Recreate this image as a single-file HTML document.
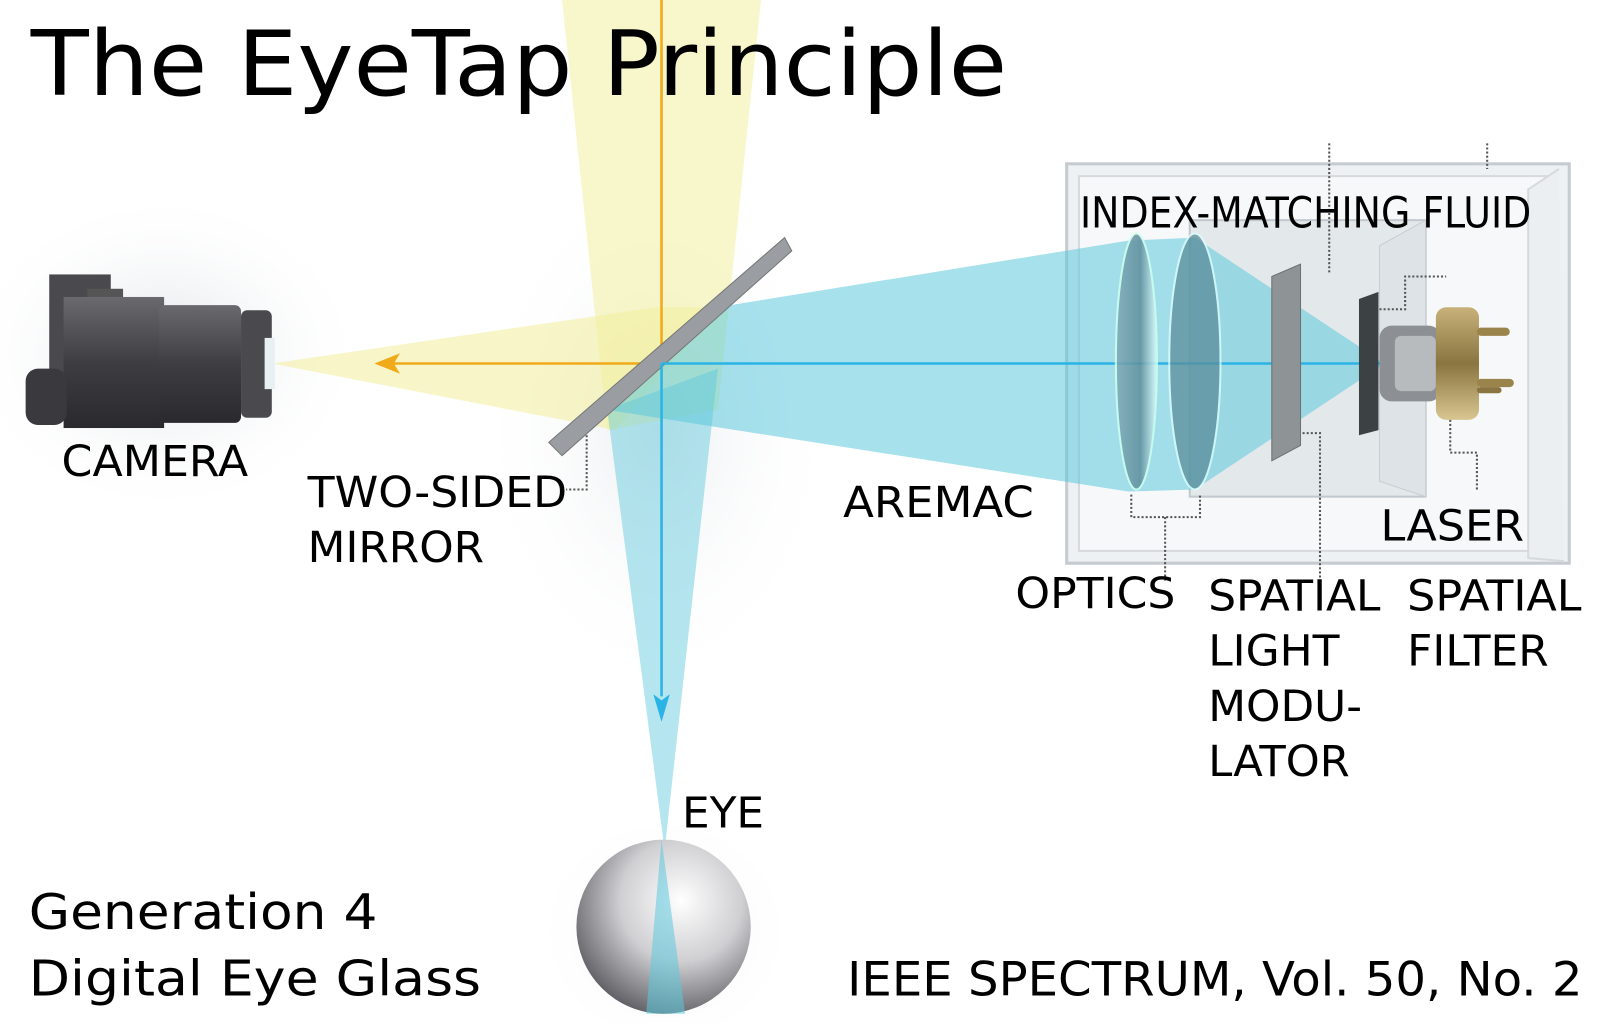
<!DOCTYPE html>
<html><head><meta charset="utf-8"><style>html,body{margin:0;padding:0;background:#fff}svg{display:block}</style></head><body>
<svg width="1600" height="1024" viewBox="0 0 1560 1000" preserveAspectRatio="none" xmlns="http://www.w3.org/2000/svg" font-family="DejaVu Sans, Liberation Sans, sans-serif">
<defs>
<radialGradient id="sh" cx="0.5" cy="0.5" r="0.5"><stop offset="0" stop-color="#d8dde2" stop-opacity="0.8"/><stop offset="1" stop-color="#fff" stop-opacity="0"/></radialGradient>
<radialGradient id="eye" cx="0.6" cy="0.35" r="0.7"><stop offset="0" stop-color="#fff"/><stop offset="0.5" stop-color="#cfcfd2"/><stop offset="1" stop-color="#5a5a60"/></radialGradient>
<linearGradient id="cam" x1="0" y1="0" x2="0" y2="1"><stop offset="0" stop-color="#6a6a6e"/><stop offset="0.5" stop-color="#3e3e42"/><stop offset="1" stop-color="#2a2a2e"/></linearGradient>
<linearGradient id="gold" x1="0" y1="0" x2="0" y2="1"><stop offset="0" stop-color="#c8b27a"/><stop offset="0.5" stop-color="#8a7440"/><stop offset="1" stop-color="#d8c690"/></linearGradient>
<linearGradient id="lens" x1="0" y1="0" x2="1" y2="0"><stop offset="0" stop-color="#7fa9b5"/><stop offset="0.6" stop-color="#5f8e9c"/><stop offset="1" stop-color="#dff"/></linearGradient>
</defs>
<rect width="1560" height="1000" fill="#fff"/>
<ellipse cx="160" cy="345" rx="200" ry="160" fill="url(#sh)"/>
<ellipse cx="640" cy="420" rx="180" ry="260" fill="url(#sh)" opacity="0.6"/>
<ellipse cx="648" cy="910" rx="130" ry="120" fill="url(#sh)" opacity="0.7"/>
<rect x="1040" y="160" width="490" height="390" fill="#eef1f3" stroke="#c5cbd0" stroke-width="3"/>
<rect x="1052" y="172" width="466" height="366" fill="#f6f8f9" stroke="#d6dadd" stroke-width="2"/>
<path d="M1520 165 L1490 185 L1490 545 L1525 548" fill="#eceff1" stroke="#d6dadd" stroke-width="2"/>
<rect x="1160" y="215" width="230" height="270" fill="#e3e8eb" stroke="#c2c9ce" stroke-width="2"/>
<path d="M1345 240 L1390 215 L1390 485 L1345 470 Z" fill="#dde3e6" stroke="#c8ced2"/>
<path d="M548 0 L742 0 L700 400 L592 420 Z" fill="#f3f0a0" opacity="0.55"/>
<path d="M265 355 L640 300 L700 300 L600 420 Z" fill="#f3ee9a" opacity="0.55"/>
<path d="M700 300 L1100 235 L1165 232 L1350 355 L1165 478 L1100 480 L590 400 Z" fill="#5cc8dc" opacity="0.55"/>
<path d="M592 400 L700 360 L648 830 Z" fill="#5cc8dc" opacity="0.45"/>
<line x1="645" y1="0" x2="645" y2="355" stroke="#f0aa1a" stroke-width="2.5"/>
<line x1="645" y1="355" x2="380" y2="355" stroke="#f0aa1a" stroke-width="2.5"/>
<path d="M365 355 L390 345 L384 355 L390 365 Z" fill="#f0aa1a"/>
<path d="M535 432 L765 232 L772 245 L548 445 Z" fill="#9a9ea2" stroke="#777" stroke-width="1"/>
<line x1="645" y1="355" x2="1350" y2="355" stroke="#2ab4e6" stroke-width="2.5"/>
<line x1="645" y1="355" x2="645" y2="680" stroke="#2ab4e6" stroke-width="2.5"/>
<path d="M645 705 L637 678 L645 684 L653 678 Z" fill="#2ab4e6"/>
<circle cx="647" cy="905" r="85" fill="url(#eye)"/>
<path d="M645 820 L630 990 L668 990 Z" fill="#5cc8dc" opacity="0.55"/>
<ellipse cx="1108" cy="353" rx="20" ry="125" fill="url(#lens)" opacity="0.85" stroke="#cfe" stroke-width="2"/>
<ellipse cx="1165" cy="353" rx="25" ry="125" fill="#5a8d9a" opacity="0.75" stroke="#dff" stroke-width="2"/>
<path d="M1240 270 L1268 258 L1268 435 L1240 450 Z" fill="#8e9396" stroke="#6c7174"/>
<path d="M1325 292 L1344 285 L1344 420 L1325 425 Z" fill="#3c4144"/>
<rect x="1345" y="318" width="60" height="74" rx="12" fill="#8c9094"/>
<rect x="1360" y="328" width="40" height="54" rx="6" fill="#b7bbbe"/>
<rect x="1400" y="300" width="42" height="110" rx="10" fill="url(#gold)"/>
<rect x="1440" y="320" width="32" height="8" rx="4" fill="#9b844c"/>
<rect x="1440" y="370" width="36" height="8" rx="4" fill="#9b844c"/>
<rect x="1440" y="378" width="24" height="6" rx="3" fill="#8a7440"/>
<rect x="48" y="268" width="60" height="140" fill="#4a4a4e"/>
<rect x="85" y="282" width="35" height="20" fill="#555"/>
<rect x="62" y="290" width="98" height="128" fill="url(#cam)"/>
<rect x="25" y="360" width="40" height="55" rx="12" fill="#3a3a3e"/>
<rect x="155" y="298" width="80" height="115" rx="6" fill="url(#cam)"/>
<rect x="235" y="303" width="30" height="105" rx="6" fill="#4a4a4e"/>
<rect x="258" y="330" width="10" height="50" fill="#e8f0f3"/>
<g stroke="#555" stroke-width="2" stroke-dasharray="2 2" fill="none">
<path d="M572 425 L572 478 L552 478"/>
<path d="M1103 483 L1103 505 L1170 505 L1170 483 M1136 505 L1136 568"/>
<path d="M1296 140 L1296 268"/>
<path d="M1450 140 L1450 165"/>
<path d="M1270 423 L1287 423 L1287 570"/>
<path d="M1345 302 L1370 302 L1370 270 L1410 270"/>
<path d="M1414 410 L1414 442 L1440 442 L1440 478"/>
</g>
<g fill="#000">
<text x="30" y="93" font-size="88" textLength="952" lengthAdjust="spacingAndGlyphs">The EyeTap Principle</text>
<text x="60" y="465" font-size="42" textLength="182" lengthAdjust="spacingAndGlyphs">CAMERA</text>
<text x="300" y="495" font-size="42" textLength="253" lengthAdjust="spacingAndGlyphs">TWO-SIDED</text>
<text x="300" y="549" font-size="42" textLength="172" lengthAdjust="spacingAndGlyphs">MIRROR</text>
<text x="822" y="505" font-size="42" textLength="186" lengthAdjust="spacingAndGlyphs">AREMAC</text>
<text x="1053" y="222" font-size="42" textLength="440" lengthAdjust="spacingAndGlyphs">INDEX-MATCHING FLUID</text>
<text x="1346" y="528" font-size="42" textLength="140" lengthAdjust="spacingAndGlyphs">LASER</text>
<text x="990" y="594" font-size="42" textLength="156" lengthAdjust="spacingAndGlyphs">OPTICS</text>
<text x="1178" y="596" font-size="42" textLength="168" lengthAdjust="spacingAndGlyphs">SPATIAL</text>
<text x="1178" y="650" font-size="42" textLength="128" lengthAdjust="spacingAndGlyphs">LIGHT</text>
<text x="1178" y="704" font-size="42" textLength="150" lengthAdjust="spacingAndGlyphs">MODU-</text>
<text x="1178" y="758" font-size="42" textLength="138" lengthAdjust="spacingAndGlyphs">LATOR</text>
<text x="1372" y="596" font-size="42" textLength="170" lengthAdjust="spacingAndGlyphs">SPATIAL</text>
<text x="1372" y="650" font-size="42" textLength="138" lengthAdjust="spacingAndGlyphs">FILTER</text>
<text x="665" y="808" font-size="42" textLength="80" lengthAdjust="spacingAndGlyphs">EYE</text>
<text x="28" y="907" font-size="48" textLength="340" lengthAdjust="spacingAndGlyphs">Generation 4</text>
<text x="28" y="972" font-size="48" textLength="441" lengthAdjust="spacingAndGlyphs">Digital Eye Glass</text>
<text x="826" y="972" font-size="46" textLength="717" lengthAdjust="spacingAndGlyphs">IEEE SPECTRUM, Vol. 50, No. 2</text>
</g>
</svg>
</body></html>
